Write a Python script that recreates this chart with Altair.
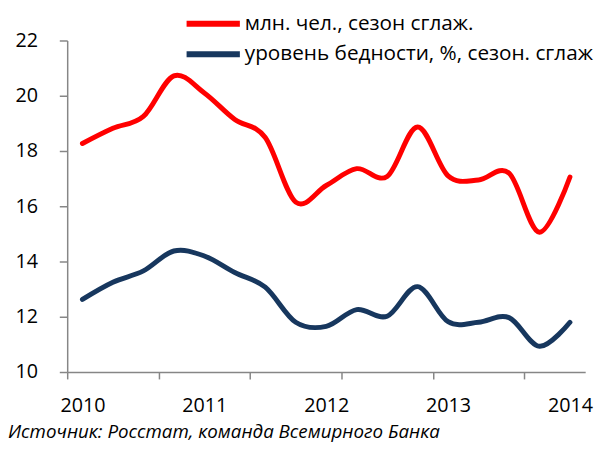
import altair as alt
import pandas as pd

quarter_index = list(range(17))
years = [2010, 2011, 2012, 2013, 2014]
series_names = ["млн. чел., сезон сглаж.", "уровень бедности, %, сезон. сглаж"]
mln_people = [18.27, 18.82, 19.25, 20.72, 20.1, 19.14, 18.49, 16.15, 16.75,
              17.36, 17.08, 18.87, 17.1, 16.95, 17.2, 15.06, 17.06]
poverty_rate = [12.63, 13.25, 13.66, 14.38, 14.2, 13.6, 13.07, 11.8, 11.65,
                12.26, 12.02, 13.09, 11.82, 11.8, 11.97, 10.93, 11.8]
source_text = "Источник: Росстат, команда Всемирного Банка"

rows = []
for i, v in zip(quarter_index, mln_people):
    rows.append({"q": i, "value": v, "series": series_names[0]})
for i, v in zip(quarter_index, poverty_rate):
    rows.append({"q": i, "value": v, "series": series_names[1]})
df = pd.DataFrame(rows)

FONT = "Open Sans"
axis_values = [-0.5, 0, 2.5, 4, 5.5, 8, 8.5, 11.5, 12, 14.5, 16]

chart = alt.Chart(df).mark_line(strokeWidth=5, interpolate="cardinal", strokeCap="round").encode(
    x=alt.X("q:Q", scale=alt.Scale(domain=[-0.5, 16.5], nice=False, zero=False),
            axis=alt.Axis(values=axis_values, title=None, grid=False,
                          labelExpr="datum.value % 4 == 0 ? '' + (2010 + datum.value / 4) : ''",
                          labelOverlap=False, labelFlush=False,
                          tickOpacity={"condition": {"test": "datum.value % 1 != 0", "value": 1}, "value": 0},
                          tickSize=7, tickColor="#868686", domainColor="#868686", domainWidth=1.5,
                          tickWidth=1.5, labelPadding=17, labelFontSize=20, labelFont=FONT,
                          labelColor="black")),
    y=alt.Y("value:Q", scale=alt.Scale(domain=[10, 22], nice=False, zero=False),
            axis=alt.Axis(values=[10, 12, 14, 16, 18, 20, 22], title=None, grid=False,
                          tickSize=8, tickColor="#868686", domainColor="#868686", domainWidth=1.5,
                          tickWidth=1.5, labelPadding=22, labelFontSize=20, labelFont=FONT,
                          labelColor="black")),
    color=alt.Color("series:N",
                    scale=alt.Scale(domain=series_names, range=["#FF0000", "#17375E"]),
                    legend=alt.Legend(title=None, orient="none", legendX=130, legendY=-35,
                                      symbolType="M-1.8,0L1.8,0", symbolSize=900,
                                      symbolStrokeWidth=6,
                                      labelFontSize=21, labelFont=FONT, labelColor="black",
                                      labelOffset=14, rowPadding=1, labelLimit=600)),
    order="q:Q",
).properties(
    width=525, height=336,
    padding={"left": 60, "top": 30, "right": 15, "bottom": 68},
    autosize=alt.AutoSizeParams(type="none"),
    title=alt.TitleParams(source_text, orient="bottom", anchor="start", frame="group",
                          fontStyle="italic", fontWeight="normal", fontSize=19, font=FONT,
                          color="black", dx=-60, offset=8),
).configure_view(stroke=None)

chart.save("out.html", embed_options={"renderer": "svg", "actions": False})
